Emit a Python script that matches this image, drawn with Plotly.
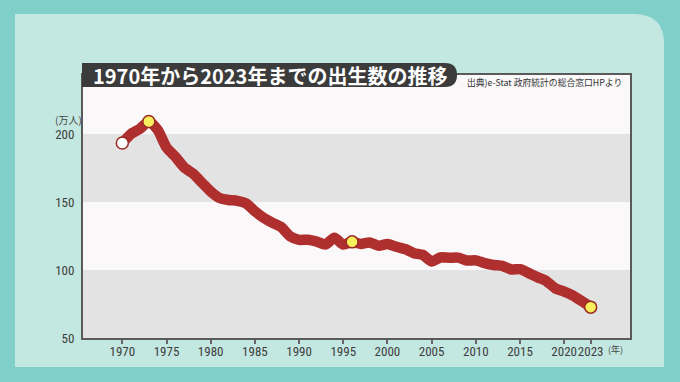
import plotly.graph_objects as go

years = list(range(1970, 2024))
births = [193.4, 200.1, 203.9, 209.2, 203.0, 190.1, 183.3, 175.5, 170.9, 164.3,
          157.7, 152.9, 151.5, 150.9, 149.0, 143.2, 138.3, 134.7, 131.4, 124.7,
          122.2, 122.3, 120.9, 118.8, 123.8, 118.7, 120.7, 119.2, 120.3, 117.8,
          119.1, 117.1, 115.4, 112.4, 111.1, 106.3, 109.3, 109.0, 109.1, 107.0,
          107.1, 105.1, 103.7, 103.0, 100.4, 100.6, 97.7, 94.6, 91.8, 86.5,
          84.1, 81.2, 77.1, 72.7]
marker_years = [1970, 1973, 1996, 2023]
marker_fill = ["#ffffff", "#f8ef5c", "#f8ef5c", "#f8ef5c"]
x_ticks = [1970, 1975, 1980, 1985, 1990, 1995, 2000, 2005, 2010, 2015, 2020, 2023]
y_ticks = [50, 100, 150, 200]
title_text = "1970年から2023年までの出生数の推移"
source_text = "出典)e-Stat 政府統計の総合窓口HPより"

W, H = 680, 382
L, R, T, B = 83, 50, 75, 44
PW, PH = W - L - R, H - T - B


def px(x):
    return (x - L) / PW


def py(y):
    return (H - B - y) / PH


marker_vals = [births[years.index(y)] for y in marker_years]

fig = go.Figure()
fig.add_trace(go.Scatter(
    x=years, y=births, mode="lines",
    line=dict(color="#ae2f2d", width=10.5, shape="spline", smoothing=0.6),
    hoverinfo="skip", showlegend=False))
fig.add_trace(go.Scatter(
    x=marker_years, y=marker_vals, mode="markers",
    marker=dict(size=12, color=marker_fill, line=dict(color="#9c2a24", width=1.5)),
    showlegend=False))

shapes = []
r = 30
panel = (f"M {px(15)},{py(367)} L {px(15)},{py(14)} L {px(664-r)},{py(14)} "
         f"Q {px(664)},{py(14)} {px(664)},{py(14+r)} L {px(664)},{py(367)} Z")
shapes.append(dict(type="path", path=panel, xref="paper", yref="paper",
                   fillcolor="#c3e7e1", line=dict(width=0), layer="below"))
shapes.append(dict(type="rect", xref="paper", yref="paper", x0=0, x1=1, y0=0, y1=1,
                   fillcolor="#faf8f9", line=dict(width=0), layer="below"))
for lo, hi in [(50, 100), (150, 200)]:
    shapes.append(dict(type="rect", xref="paper", yref="y", x0=0, x1=1, y0=lo, y1=hi,
                       fillcolor="#e3e3e3", line=dict(width=0), layer="below"))
rr = 12
tb = (f"M {px(82)},{py(63)} L {px(457-rr)},{py(63)} Q {px(457)},{py(63)} {px(457)},{py(75)} "
      f"Q {px(457)},{py(87)} {px(457-rr)},{py(87)} L {px(82)},{py(87)} Z")
shapes.append(dict(type="path", path=tb, xref="paper", yref="paper",
                   fillcolor="#3b3b3b", line=dict(width=0), layer="above"))

annotations = [
    dict(text=title_text, x=px(91), y=py(75), xref="paper", yref="paper",
         xanchor="left", yanchor="middle", showarrow=False,
         font=dict(family="Noto Sans CJK JP", size=20, color="#ffffff", weight="bold")),
    dict(text=source_text, x=px(624), y=py(82), xref="paper", yref="paper",
         xanchor="right", yanchor="middle", showarrow=False,
         font=dict(family="Noto Sans CJK JP", size=8.8, color="#333333")),
    dict(text="(万人)", x=px(68), y=py(119), xref="paper", yref="paper",
         xanchor="center", yanchor="middle", showarrow=False,
         font=dict(family="Noto Sans CJK JP", size=10, color="#444444")),
    dict(text="(年)", x=px(606), y=py(349), xref="paper", yref="paper",
         xanchor="left", yanchor="middle", showarrow=False,
         font=dict(family="Noto Sans CJK JP", size=9, color="#444444")),
]

tick_font = dict(family="Liberation Sans Narrow, Roboto Condensed, Roboto, sans-serif",
                 size=13, color="#404040")

fig.update_layout(
    width=W, height=H,
    margin=dict(l=L, r=R, t=T, b=B, pad=0, autoexpand=False),
    paper_bgcolor="#80cfc8",
    plot_bgcolor="rgba(0,0,0,0)",
    shapes=shapes,
    annotations=annotations,
    xaxis=dict(range=[1965.55, 2027.45], tickvals=x_ticks, showgrid=False, zeroline=False,
               showline=True, mirror=True, linecolor="#5a5a5a", linewidth=2,
               ticks="outside", ticklen=4, tickwidth=1.5, tickcolor="#666666",
               tickangle=0, automargin=False, ticklabelstandoff=-4, tickfont=tick_font),
    yaxis=dict(range=[50, 243.4], tickvals=y_ticks, showgrid=False, zeroline=False,
               showline=True, mirror=True, linecolor="#5a5a5a", linewidth=2,
               ticks="", ticklabelstandoff=4, automargin=False, tickfont=tick_font),
)

fig.write_html("out.html", config={"displayModeBar": False},
               post_script="document.body.style.margin='0';document.body.style.overflow='hidden';")
